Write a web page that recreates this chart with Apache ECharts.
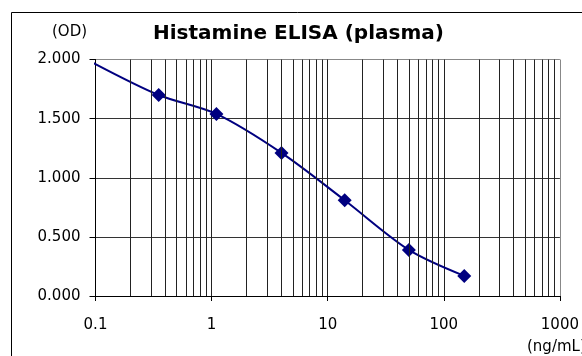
<!DOCTYPE html>
<html>
<head>
<meta charset="utf-8">
<script src="https://cdn.jsdelivr.net/npm/echarts@6/dist/echarts.min.js"></script>
<style>
  html, body { margin: 0; padding: 0; background: #fff; }
  #chart { width: 582px; height: 356px; }
</style>
</head>
<body>
<div id="chart"></div>
<script>
// standard curve
const concentrations = [0.088, 0.35, 1.1, 4.0, 14, 50, 150]
const odValues = [1.99, 1.70, 1.54, 1.21, 0.81, 0.39, 0.17]
// first point is only the start of the curve, no marker
const markerShown = [false, true, true, true, true, true, true]

const xTicks = [0.1, 1, 10, 100, 1000]
const yTicks = [0, 0.5, 1, 1.5, 2]

// minor vertical grid lines 2..9 in every decade
const minorX = []
for (let i = 0; i < xTicks.length - 1; i++) {
  for (let k = 2; k <= 9; k++) {
    minorX.push(+(xTicks[i] * k).toPrecision(3))
  }
}

const font = 'DejaVu Sans'

let myChart = echarts.init(document.getElementById('chart'))
myChart.setOption({
  animation: false,
  backgroundColor: '#fff',
  title: {
    text: 'Histamine ELISA (plasma)',
    left: 153,
    top: 24,
    padding: 0,
    textStyle: { fontFamily: font, fontSize: 20, fontWeight: 'bold', color: '#000' }
  },
  graphic: [
    {
      type: 'rect',
      shape: { x: 11.5, y: 12.5, width: 620, height: 400 },
      style: { fill: 'none', stroke: '#000', lineWidth: 1 },
      silent: true
    },
    {
      type: 'text',
      left: 52,
      top: 25,
      style: { text: '(OD)', font: '15px "DejaVu Sans"', fill: '#000' }
    },
    {
      type: 'text',
      left: 527,
      top: 340,
      style: { text: '(ng/mL)', font: '15px "DejaVu Sans"', fill: '#000' }
    }
  ],
  grid: {
    left: 95.5,
    right: 20.5,
    top: 59.5,
    bottom: 60,
    show: false
  },
  xAxis: {
    type: 'log',
    logBase: 10,
    min: xTicks[0],
    max: xTicks[xTicks.length - 1],
    axisLine: { show: true, lineStyle: { color: '#000', width: 1 } },
    axisTick: { show: true, length: 5, lineStyle: { color: '#000' } },
    axisLabel: {
      margin: 22,
      fontFamily: font,
      fontSize: 15,
      color: '#000',
      formatter: v => String(+v.toPrecision(3))
    },
    splitLine: {
      show: true,
      lineStyle: { color: ['#000', '#222', '#222', '#222', '#888'], width: 1 }
    }
  },
  yAxis: {
    type: 'value',
    min: yTicks[0],
    max: yTicks[yTicks.length - 1],
    interval: 0.5,
    axisLine: { show: true, lineStyle: { color: '#000', width: 1 } },
    axisTick: { show: true, length: 6, lineStyle: { color: '#000' } },
    axisLabel: {
      margin: 15,
      fontFamily: font,
      fontSize: 15,
      color: '#000',
      formatter: v => v.toFixed(3)
    },
    splitLine: {
      show: true,
      lineStyle: { color: ['#000', '#333', '#333', '#333', '#888'], width: 1 }
    }
  },
  series: [
    {
      name: 'grid',
      type: 'line',
      data: [],
      z: 1,
      silent: true,
      markLine: {
        silent: true,
        symbol: ['none', 'none'],
        label: { show: false },
        lineStyle: { color: '#222', width: 1, type: 'solid' },
        data: minorX.map(x => ({ xAxis: x }))
      }
    },
    {
      name: 'OD',
      type: 'line',
      z: 3,
      clip: false,
      smooth: 0.3,
      symbol: 'diamond',
      symbolSize: 14,
      lineStyle: { color: '#000080', width: 2 },
      itemStyle: { color: '#000080' },
      data: concentrations.map((c, i) => ({
        value: [c, odValues[i]],
        symbol: markerShown[i] ? 'diamond' : 'none'
      }))
    }
  ]
})
</script>
</body>
</html>
